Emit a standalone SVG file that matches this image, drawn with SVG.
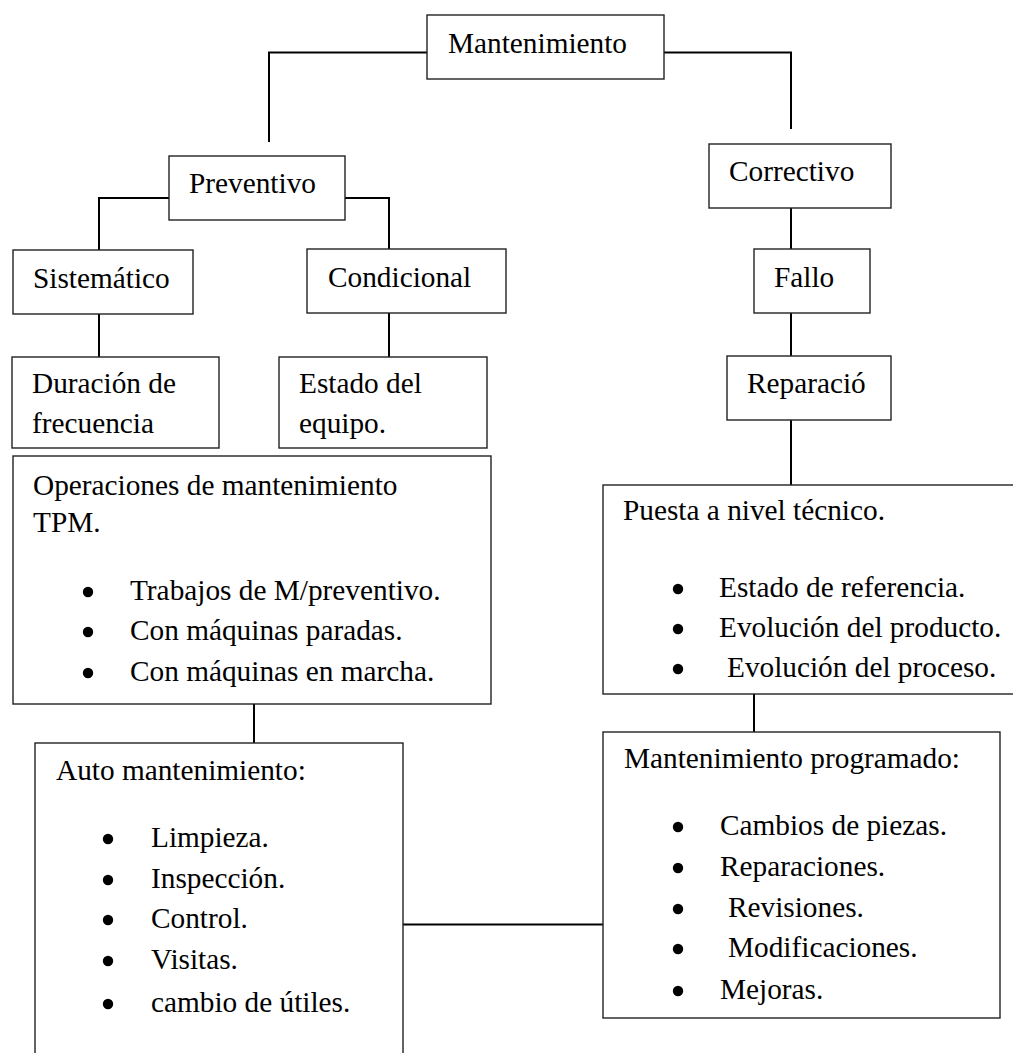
<svg xmlns="http://www.w3.org/2000/svg" width="1013" height="1053" viewBox="0 0 1013 1053">
  <style>
    .box { fill: #ffffff; stroke: #222222; stroke-width: 1.4; }
    .edge { fill: none; stroke: #000000; stroke-width: 2; }
    .dot { fill: #000000; }
    text { font-family: "Liberation Serif", "Times New Roman", serif; font-size: 29.3px; fill: #000000; }
  </style>
  <defs>
    <!-- list bullet, drawn 8px above the text baseline -->
    <circle id="bullet" class="dot" cx="0" cy="-8" r="5.2"/>
  </defs>
  <rect width="1013" height="1053" fill="#ffffff"/>

  <!-- connectors -->
  <g id="connectors">
    <polyline class="edge" points="427,52.5 269,52.5 269,142"/>
    <polyline class="edge" points="664,52.5 791,52.5 791,129"/>
    <polyline class="edge" points="169,198 99,198 99,250"/>
    <polyline class="edge" points="345,198 389,198 389,249"/>
    <line class="edge" x1="99" y1="314" x2="99" y2="357"/>
    <line class="edge" x1="389" y1="313" x2="389" y2="357"/>
    <line class="edge" x1="791" y1="208" x2="791" y2="249"/>
    <line class="edge" x1="791" y1="313" x2="791" y2="356"/>
    <line class="edge" x1="791" y1="420" x2="791" y2="485"/>
    <line class="edge" x1="254" y1="704" x2="254" y2="743"/>
    <line class="edge" x1="754" y1="694" x2="754" y2="732"/>
    <line class="edge" x1="403" y1="924.5" x2="603" y2="924.5"/>
  </g>

  <g id="mantenimiento">
    <rect class="box" x="427" y="15" width="237" height="64"/>
    <text x="448" y="53">Mantenimiento</text>
  </g>

  <g id="preventivo">
    <rect class="box" x="169" y="156" width="176" height="64"/>
    <text x="189" y="193">Preventivo</text>
  </g>

  <g id="sistematico">
    <rect class="box" x="13" y="250" width="180" height="64"/>
    <text x="33" y="288">Sistemático</text>
  </g>

  <g id="condicional">
    <rect class="box" x="307" y="249" width="199" height="64"/>
    <text x="328" y="287">Condicional</text>
  </g>

  <g id="duracion">
    <rect class="box" x="12" y="357" width="207" height="91"/>
    <text x="32" y="393">Duración de</text>
    <text x="32" y="433">frecuencia</text>
  </g>

  <g id="estado">
    <rect class="box" x="279" y="357" width="208" height="91"/>
    <text x="299" y="393">Estado del</text>
    <text x="299" y="433">equipo.</text>
  </g>

  <g id="correctivo">
    <rect class="box" x="709" y="144" width="182" height="64"/>
    <text x="729" y="181">Correctivo</text>
  </g>

  <g id="fallo">
    <rect class="box" x="754" y="249" width="116" height="64"/>
    <text x="774" y="287">Fallo</text>
  </g>

  <g id="reparacion">
    <rect class="box" x="727" y="356" width="164" height="64"/>
    <text x="747" y="393">Reparació</text>
  </g>

  <g id="tpm">
    <rect class="box" x="13" y="456" width="478" height="248"/>
    <text x="33" y="495">Operaciones de mantenimiento</text>
    <text x="33" y="532">TPM.</text>
    <use href="#bullet" x="88" y="600"/>
    <text x="130" y="600">Trabajos de M/preventivo.</text>
    <use href="#bullet" x="88" y="640"/>
    <text x="130" y="640">Con máquinas paradas.</text>
    <use href="#bullet" x="88" y="681"/>
    <text x="130" y="681">Con máquinas en marcha.</text>
  </g>

  <g id="puesta">
    <rect class="box" x="603" y="485" width="420" height="209"/>
    <text x="623" y="520">Puesta a nivel técnico.</text>
    <use href="#bullet" x="678" y="597"/>
    <text x="719" y="597">Estado de referencia.</text>
    <use href="#bullet" x="678" y="637"/>
    <text x="719" y="637">Evolución del producto.</text>
    <use href="#bullet" x="678" y="677"/>
    <text x="727" y="677">Evolución del proceso.</text>
  </g>

  <g id="auto">
    <rect class="box" x="35" y="743" width="368" height="330"/>
    <text x="56" y="780">Auto mantenimiento:</text>
    <use href="#bullet" x="108" y="847"/>
    <text x="151" y="847">Limpieza.</text>
    <use href="#bullet" x="108" y="888"/>
    <text x="151" y="888">Inspección.</text>
    <use href="#bullet" x="108" y="928"/>
    <text x="151" y="928">Control.</text>
    <use href="#bullet" x="108" y="969"/>
    <text x="151" y="969">Visitas.</text>
    <use href="#bullet" x="108" y="1012"/>
    <text x="151" y="1012">cambio de útiles.</text>
  </g>

  <g id="programado">
    <rect class="box" x="603" y="732" width="397" height="286"/>
    <text x="624" y="768">Mantenimiento programado:</text>
    <use href="#bullet" x="678" y="835"/>
    <text x="720" y="835">Cambios de piezas.</text>
    <use href="#bullet" x="678" y="876"/>
    <text x="720" y="876">Reparaciones.</text>
    <use href="#bullet" x="678" y="917"/>
    <text x="728" y="917">Revisiones.</text>
    <use href="#bullet" x="678" y="957"/>
    <text x="728" y="957">Modificaciones.</text>
    <use href="#bullet" x="678" y="999"/>
    <text x="720" y="999">Mejoras.</text>
  </g>
</svg>
